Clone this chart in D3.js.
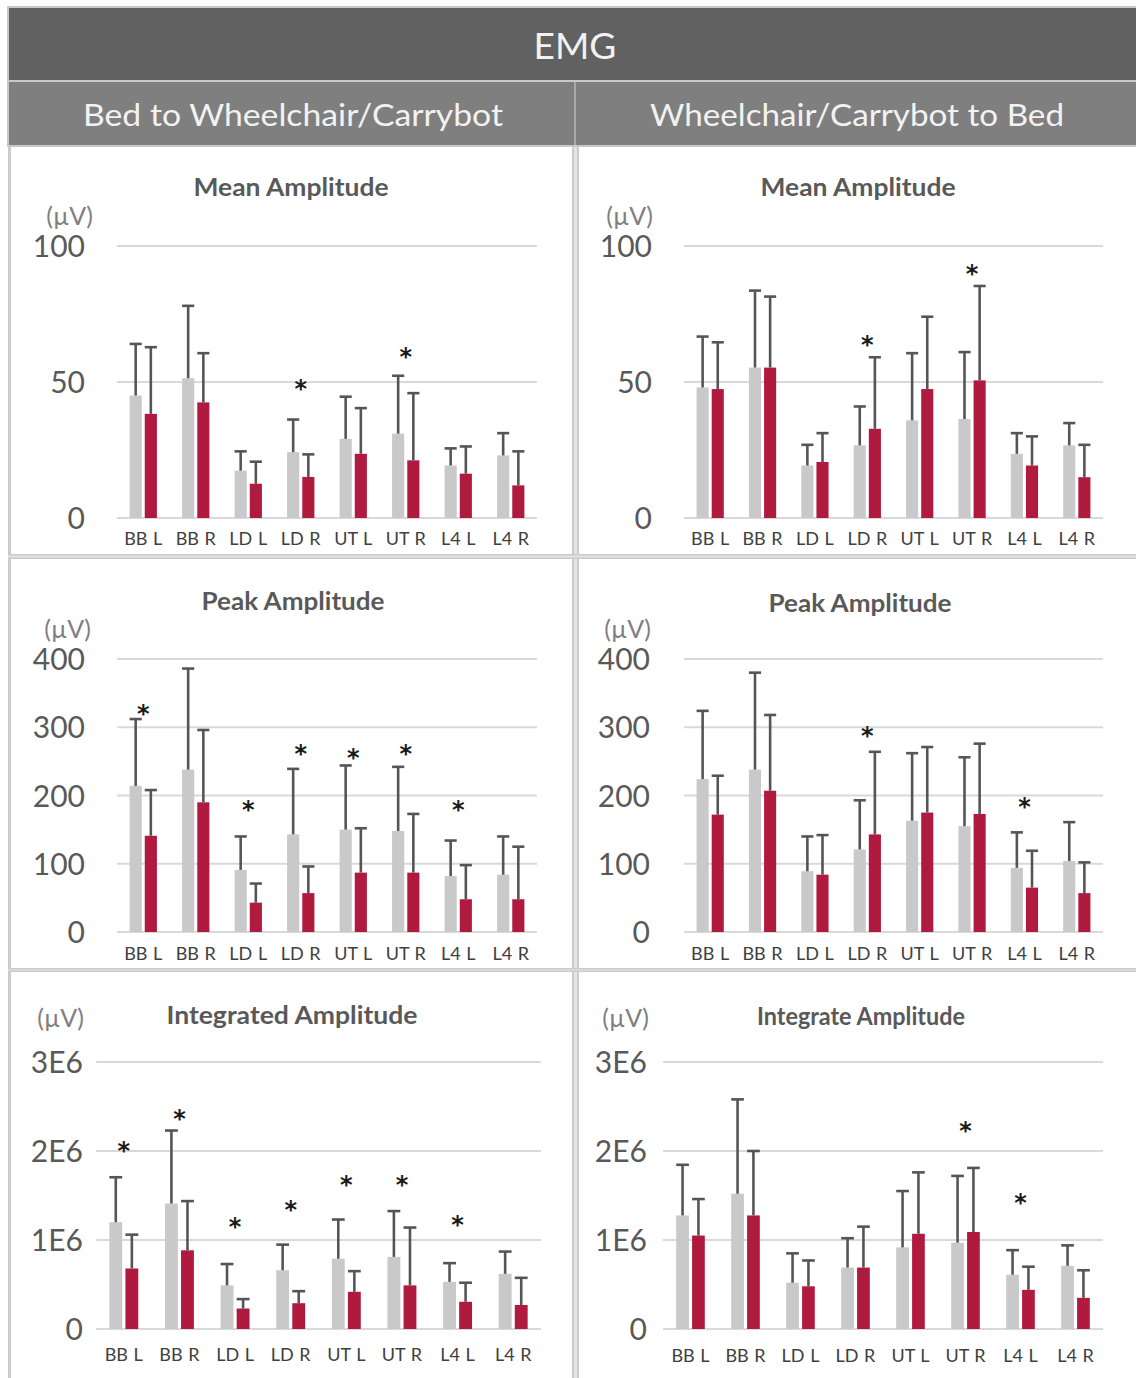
<!DOCTYPE html>
<html><head><meta charset="utf-8">
<script src="https://cdn.jsdelivr.net/npm/d3@7"></script>
<style>body{margin:0;background:#fff}svg{display:block}text{font-family:Lato,"Open Sans",sans-serif}</style>
</head><body><svg id="c" width="1136" height="1378"></svg>
<script>
// ---------- data ----------
const categories = ["BB L","BB R","LD L","LD R","UT L","UT R","L4 L","L4 R"];
const seriesNames = ["before","after"];
const meanTicks = [0, 50, 100];
const peakTicks = [0, 100, 200, 300, 400];
const intTicks = [0, 1e6, 2e6, 3e6];
const intTickLabels = ["0", "1E6", "2E6", "3E6"];

// Mean amplitude – Bed to Wheelchair/Carrybot
const meanBW_gray = [45, 51.4, 17.4, 24.2, 29.1, 31, 19.3, 23];
const meanBW_graySD = [19, 26.6, 7.1, 12, 15.5, 21.3, 6.3, 8.2];
const meanBW_red = [38.3, 42.5, 12.6, 15.1, 23.6, 21.2, 16.3, 12];
const meanBW_redSD = [24.5, 18.1, 8.1, 8.3, 16.8, 24.7, 10, 12.5];
const meanBW_star = [null, null, null, 49, null, 60.6, null, null];

// Mean amplitude – Wheelchair/Carrybot to Bed
const meanWB_gray = [48, 55.3, 19.3, 26.7, 35.9, 36.4, 23.6, 26.7];
const meanWB_graySD = [18.7, 28.3, 7.6, 14.3, 24.7, 24.6, 7.6, 8.2];
const meanWB_red = [47.4, 55.3, 20.6, 32.8, 47.4, 50.6, 19.3, 15];
const meanWB_redSD = [17.2, 26.1, 10.6, 26.3, 26.6, 34.7, 10.7, 11.9];
const meanWB_star = [null, null, null, 65, null, 91, null, null];

// Peak amplitude – Bed to Wheelchair/Carrybot
const peakBW_gray = [214, 238, 91, 143, 150, 148, 82, 84];
const peakBW_graySD = [98, 148, 49, 96, 94, 94, 52, 56];
const peakBW_red = [141, 190, 43, 57, 87, 87, 48, 48];
const peakBW_redSD = [67, 106, 28, 39, 65, 86, 50, 77];
const peakBW_star = [325, null, 185, 266, 261, 266, 185, null];

// Peak amplitude – Wheelchair/Carrybot to Bed
const peakWB_gray = [224, 238, 89, 121, 163, 155, 94, 104];
const peakWB_graySD = [100, 142, 51, 72, 99, 101, 52, 57];
const peakWB_red = [172, 207, 84, 143, 175, 173, 65, 57];
const peakWB_redSD = [57, 111, 58, 121, 96, 103, 54, 45];
const peakWB_star = [null, null, null, 293, null, null, 189, null];

// Integrated amplitude – Bed to Wheelchair/Carrybot
const intBW_gray = [1200000, 1410000, 490000, 660000, 790000, 810000, 530000, 620000];
const intBW_graySD = [505000, 820000, 240000, 288000, 440000, 515000, 210000, 250000];
const intBW_red = [680000, 884000, 230000, 290000, 418000, 490000, 306000, 270000];
const intBW_redSD = [380000, 553000, 106000, 135000, 232000, 650000, 214000, 305000];
const intBW_star = [2040000, 2400000, 1190000, 1380000, 1660000, 1660000, 1210000, null];

// Integrate amplitude – Wheelchair/Carrybot to Bed
const intWB_gray = [1276000, 1520000, 520000, 690000, 917000, 970000, 610000, 710000];
const intWB_graySD = [569000, 1060000, 330000, 330000, 633000, 750000, 276000, 230000];
const intWB_red = [1050000, 1276000, 480000, 690000, 1070000, 1090000, 440000, 350000];
const intWB_redSD = [410000, 724000, 290000, 460000, 690000, 720000, 260000, 310000];
const intWB_star = [null, null, null, null, null, 2270000, 1460000, null];

// ---------- layout ----------
const svg = d3.select("#c");
const C = {gray:"#c9c9c9", red:"#b01a3f", err:"#555555", grid:"#d9d9d9", border:"#cbcbcb"};

// header
svg.append("rect").attr("x",7).attr("y",6).attr("width",1129).attr("height",141).attr("fill","#c8c8c8");
svg.append("rect").attr("x",9).attr("y",8).attr("width",1127).attr("height",72).attr("fill","#616161");
svg.append("rect").attr("x",9).attr("y",82).attr("width",1127).attr("height",63).attr("fill","#7f7f7f");
svg.append("rect").attr("x",574).attr("y",82).attr("width",2).attr("height",63).attr("fill","#a9a9a9");
svg.append("text").attr("x",575).attr("y",44).attr("text-anchor","middle").attr("dominant-baseline","central")
  .attr("fill","#f2f2f2").attr("font-size",37).text("EMG");
svg.append("text").attr("x",293).attr("y",114).attr("text-anchor","middle").attr("dominant-baseline","central")
  .attr("fill","#f2f2f2").attr("font-size",31).attr("textLength",420).attr("lengthAdjust","spacingAndGlyphs")
  .text("Bed to Wheelchair/Carrybot");
svg.append("text").attr("x",857).attr("y",114).attr("text-anchor","middle").attr("dominant-baseline","central")
  .attr("fill","#f2f2f2").attr("font-size",31).attr("textLength",414).attr("lengthAdjust","spacingAndGlyphs")
  .text("Wheelchair/Carrybot to Bed");

// panel borders
svg.append("rect").attr("x",8).attr("y",147).attr("width",3).attr("height",1231).attr("fill",C.border);
svg.append("rect").attr("x",572).attr("y",147).attr("width",7).attr("height",1231).attr("fill",C.border);
svg.append("rect").attr("x",574).attr("y",147).attr("width",3).attr("height",1231).attr("fill","#e4e4e4");
[[554,5],[968,4]].forEach(([y,h])=>{
  svg.append("rect").attr("x",8).attr("y",y).attr("width",1128).attr("height",h).attr("fill",C.border);
  svg.append("rect").attr("x",8).attr("y",y+1.5).attr("width",1128).attr("height",h-3).attr("fill","#e4e4e4");
});

const panels = [
  {title:"Mean Amplitude", tw:195, tx:291, ty:186, ux:93, uy:215, x:[117,537], y:[518,246], dom:[0,100], ticks:meanTicks, tl:meanTicks.map(String), tickX:85, catY:538,
   g:meanBW_gray, gs:meanBW_graySD, r:meanBW_red, rs:meanBW_redSD, s:meanBW_star},
  {title:"Mean Amplitude", tw:195, tx:858, ty:186, ux:653, uy:215, x:[684,1103], y:[518,246], dom:[0,100], ticks:meanTicks, tl:meanTicks.map(String), tickX:652, catY:538,
   g:meanWB_gray, gs:meanWB_graySD, r:meanWB_red, rs:meanWB_redSD, s:meanWB_star},
  {title:"Peak Amplitude", tw:183, tx:293, ty:600, ux:91, uy:628, x:[117,537], y:[932,659], dom:[0,400], ticks:peakTicks, tl:peakTicks.map(String), tickX:85, catY:953,
   g:peakBW_gray, gs:peakBW_graySD, r:peakBW_red, rs:peakBW_redSD, s:peakBW_star},
  {title:"Peak Amplitude", tw:183, tx:860, ty:602, ux:651, uy:628, x:[684,1103], y:[932,659], dom:[0,400], ticks:peakTicks, tl:peakTicks.map(String), tickX:650, catY:953,
   g:peakWB_gray, gs:peakWB_graySD, r:peakWB_red, rs:peakWB_redSD, s:peakWB_star},
  {title:"Integrated Amplitude", tw:251, tx:292, ty:1014, ux:84, uy:1017, x:[96,541], y:[1329,1062], dom:[0,3e6], ticks:intTicks, tl:intTickLabels, tickX:83, catY:1354,
   g:intBW_gray, gs:intBW_graySD, r:intBW_red, rs:intBW_redSD, s:intBW_star},
  {title:"Integrate Amplitude", tw:208, tx:861, ty:1015, ux:649, uy:1017, x:[663,1103], y:[1329,1062], dom:[0,3e6], ticks:intTicks, tl:intTickLabels, tickX:647, catY:1355,
   g:intWB_gray, gs:intWB_graySD, r:intWB_red, rs:intWB_redSD, s:intWB_star}
];

panels.forEach(p=>{
  const G = svg.append("g");
  const x0 = d3.scaleBand().domain(categories).range(p.x).paddingInner(0.48).paddingOuter(0.24);
  const x1 = d3.scaleBand().domain(seriesNames).range([0, x0.bandwidth()]).paddingInner(0.2);
  const y = d3.scaleLinear().domain(p.dom).range(p.y);

  G.append("text").attr("x",p.tx).attr("y",p.ty).attr("text-anchor","middle").attr("dominant-baseline","central")
    .attr("font-weight","bold").attr("font-size",24).attr("fill","#595959")
    .attr("textLength",p.tw).attr("lengthAdjust","spacingAndGlyphs").text(p.title);
  G.append("text").attr("x",p.ux).attr("y",p.uy).attr("text-anchor","end").attr("dominant-baseline","central")
    .attr("font-size",25).attr("fill","#7f7f7f").text("(µV)");

  const yAxis = d3.axisLeft(y).tickValues(p.ticks).tickSize(0).tickPadding(0)
    .tickFormat((d,i)=>p.tl[i]);
  const ax = G.append("g").attr("transform",`translate(${p.tickX},0)`).call(yAxis);
  ax.select(".domain").remove();
  ax.selectAll("text").attr("font-size",30).attr("fill","#595959").attr("dy","0.35em");

  G.selectAll(".grid").data(p.ticks).join("line")
    .attr("x1",p.x[0]).attr("x2",p.x[1]).attr("y1",d=>y(d)).attr("y2",d=>y(d))
    .attr("stroke",C.grid).attr("stroke-width",2.2);

  const series = [
    {k:"before", v:p.g, sd:p.gs, c:C.gray},
    {k:"after", v:p.r, sd:p.rs, c:C.red}
  ];
  series.forEach(s=>{
    const bw = x1.bandwidth();
    const xs = (i)=>x0(categories[i]) + x1(s.k);
    G.selectAll(null).data(s.v).join("rect")
      .attr("x",(d,i)=>xs(i)).attr("width",bw)
      .attr("y",d=>y(d)).attr("height",d=>y(0)-y(d)).attr("fill",s.c);
    G.selectAll(null).data(s.v).join("line")
      .attr("x1",(d,i)=>xs(i)+bw/2).attr("x2",(d,i)=>xs(i)+bw/2)
      .attr("y1",d=>y(d)).attr("y2",(d,i)=>y(d+s.sd[i]))
      .attr("stroke",C.err).attr("stroke-width",2.6);
    G.selectAll(null).data(s.v).join("line")
      .attr("x1",(d,i)=>xs(i)).attr("x2",(d,i)=>xs(i)+bw)
      .attr("y1",(d,i)=>y(d+s.sd[i])).attr("y2",(d,i)=>y(d+s.sd[i]))
      .attr("stroke",C.err).attr("stroke-width",2.6);
  });

  // significance stars
  G.selectAll(null).data(p.s.map((v,i)=>({v,i})).filter(d=>d.v!=null)).join("text")
    .attr("x",d=>x0(categories[d.i])+x0.bandwidth()/2)
    .attr("y",d=>y(d.v)).attr("dy","0.5em").attr("text-anchor","middle")
    .style("font-family","'DejaVu Sans', sans-serif")
    .attr("font-weight","bold").attr("font-size",24).attr("fill","#1a1a1a").text("*");

  // category labels
  G.selectAll(null).data(categories).join("text")
    .attr("x",d=>x0(d)+x0.bandwidth()/2).attr("y",p.catY).attr("text-anchor","middle")
    .attr("dominant-baseline","central").attr("font-size",18).attr("fill","#404040")
    .attr("word-spacing",1).text(d=>d);
});
</script></body></html>
